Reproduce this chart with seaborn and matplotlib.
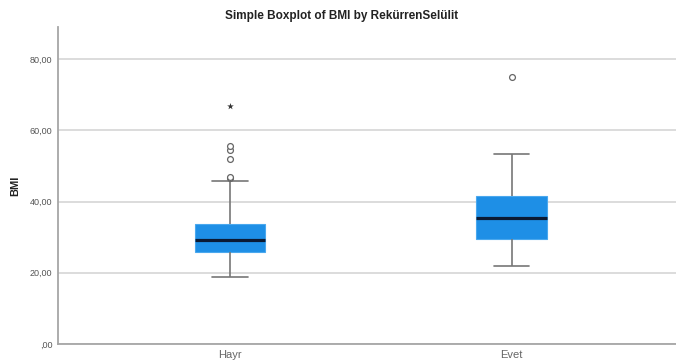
import numpy as np
import pandas as pd
import seaborn as sns
import matplotlib
matplotlib.use("Agg")
import matplotlib.pyplot as plt

# ---- data (SPSS-style boxplot) ----
categories = ["Hayr", "Evet"]
whisker_low = [18.9, 22.0]
q1 = [25.8, 29.4]
median = [29.3, 35.5]
q3 = [33.6, 41.5]
whisker_high = [45.8, 53.3]
outliers = [[46.6, 47.0, 51.9, 54.6, 55.6], [75.0]]
extremes = [[66.8], []]
yticks = [0, 20, 40, 60, 80]
ytick_labels = [",00", "20,00", "40,00", "60,00", "80,00"]

# Build a sample per group whose quartiles/whiskers reproduce the stats above
rows = []
for i, cat in enumerate(categories):
    m = len(outliers[i]) + 1
    vals = ([whisker_low[i]] + [q1[i]] * m + [median[i]] * m + [q3[i]] * m
            + [whisker_high[i]] + list(outliers[i]))
    rows += [(cat, v) for v in vals]
df = pd.DataFrame(rows, columns=["group", "BMI"])
ext = pd.DataFrame([(categories[i], v) for i in range(len(categories)) for v in extremes[i]],
                   columns=["group", "BMI"])

sns.set_theme(style="white")
plt.rcParams["font.family"] = ["Liberation Sans", "DejaVu Sans"]

fig = plt.figure(figsize=(6.76, 3.64), dpi=100)
ax = fig.add_axes([58 / 676, 20 / 364, 618 / 676, 317 / 364])

box_color = "#1e8fe6"
sns.boxplot(data=df, x="group", y="BMI", order=categories, ax=ax,
            width=0.25, whis=1.6, color=box_color, saturation=1,
            boxprops=dict(facecolor=box_color, edgecolor="#4aa8ee", linewidth=0.8),
            medianprops=dict(color="#0b1a33", linewidth=2.3),
            whiskerprops=dict(color="#777777", linewidth=1.2),
            capprops=dict(color="#777777", linewidth=1.2),
            flierprops=dict(marker="o", markerfacecolor="white",
                            markeredgecolor="#666666", markersize=4.2,
                            markeredgewidth=0.9))
sns.stripplot(data=ext, x="group", y="BMI", order=categories, ax=ax,
              jitter=False, marker="*", color="#333333", size=5)

ax.set_xlim(-0.611, 1.584)
ax.set_ylim(0, 89)
ax.set_yticks(yticks)
ax.set_yticklabels(ytick_labels)
ax.yaxis.grid(True, color="#d9d9d9", linewidth=1.3)
ax.set_axisbelow(True)
for s in ["top", "right"]:
    ax.spines[s].set_visible(False)
for s in ["left", "bottom"]:
    ax.spines[s].set_color("#a6a6a6")
    ax.spines[s].set_linewidth(1.3)
ax.tick_params(axis="both", length=0)
ax.tick_params(axis="y", labelsize=6.5, labelcolor="#555555", pad=4)
ax.tick_params(axis="x", labelsize=8, labelcolor="#666666", pad=4)
ax.set_xlabel("")
ax.set_ylabel("BMI", fontsize=8, fontweight="bold", color="#222222", labelpad=7)

fig.text(0.505, 0.955, "Simple Boxplot of BMI by RekürrenSelülit",
         ha="center", va="center", fontsize=8.5, fontweight="bold", color="#222222")

fig.savefig("out.png", dpi=100, facecolor="white")
